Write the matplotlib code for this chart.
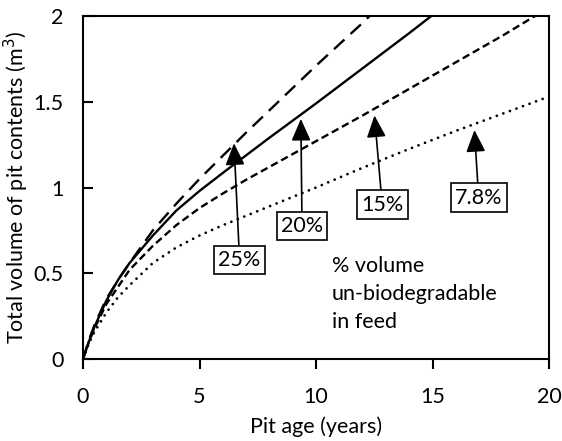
import matplotlib
matplotlib.use('Agg')
import matplotlib.pyplot as plt

plt.rcParams['font.family'] = ['Lato', 'DejaVu Sans']

# values (pit age in years, volume in m3)
age_25 = [0, 0.25, 0.5, 1, 1.5, 2, 3, 4, 5, 6, 7, 8, 10, 12, 12.3]
vol_25 = [0, 0.11, 0.20, 0.35, 0.46, 0.56, 0.75, 0.905, 1.05, 1.185, 1.32, 1.45, 1.71, 1.96, 2.0]

age_20 = [0, 0.25, 0.5, 1, 1.5, 2, 3, 4, 5, 6, 8, 10, 12, 14, 14.95]
vol_20 = [0, 0.10, 0.19, 0.34, 0.46, 0.56, 0.72, 0.865, 0.98, 1.085, 1.29, 1.49, 1.695, 1.90, 2.0]

age_15 = [0, 0.25, 0.5, 1, 1.5, 2, 3, 4, 5, 6, 7, 8, 10, 12, 14, 16, 18, 19.4]
vol_15 = [0, 0.10, 0.18, 0.32, 0.42, 0.52, 0.66, 0.78, 0.88, 0.965, 1.045, 1.12, 1.27, 1.42, 1.575, 1.73, 1.885, 2.0]

age_78 = [0, 0.25, 0.5, 1, 1.5, 2, 3, 4, 5, 6, 7, 8, 10, 12, 14, 16, 18, 20]
vol_78 = [0, 0.09, 0.16, 0.27, 0.36, 0.43, 0.56, 0.65, 0.72, 0.78, 0.835, 0.89, 1.0, 1.115, 1.225, 1.33, 1.43, 1.53]

labels = ['25%', '20%', '15%', '7.8%']
tip_x = [6.48, 9.35, 12.51, 16.8]
tip_y = [1.258, 1.40, 1.42, 1.335]
box_x = [6.72, 9.40, 12.84, 16.98]
box_y = [0.577, 0.776, 0.90, 0.94]

x_ticks = [0, 5, 10, 15, 20]
y_ticks = [0, 0.5, 1, 1.5, 2]
y_tick_labels = ['0', '0.5', '1', '1.5', '2']

fs = 15.5
fig = plt.figure(figsize=(5.62, 4.41), dpi=100)
ax = fig.add_axes([83 / 562, 1 - 359 / 441, (549 - 83) / 562, (359 - 16) / 441])

lw = 1.7
ax.plot(age_25, vol_25, color='black', lw=lw, dashes=(6, 3.5))
ax.plot(age_20, vol_20, color='black', lw=lw)
ax.plot(age_15, vol_15, color='black', lw=lw, dashes=(3.2, 1.7))
ax.plot(age_78, vol_78, color='black', lw=2.0, dashes=(0.01, 2.5), dash_capstyle='round')

for lab, tx, ty, bx, by in zip(labels, tip_x, tip_y, box_x, box_y):
    ax.annotate(lab, xy=(tx, ty), xytext=(bx, by), ha='center', va='center', fontsize=fs,
                bbox=dict(boxstyle='square,pad=0.2', fc='white', ec='black', lw=1.2),
                arrowprops=dict(arrowstyle='-|>,head_length=0.75,head_width=0.33',
                                color='black', lw=1.2, shrinkA=0, shrinkB=0,
                                mutation_scale=18))

ax.text(10.69, 0.60, '% volume\nun-biodegradable\nin feed', ha='left', va='top',
        fontsize=fs, linespacing=1.5)

ax.set_xlim(0, 20)
ax.set_ylim(0, 2)
ax.set_xticks(x_ticks)
ax.set_yticks(y_ticks)
ax.set_yticklabels(y_tick_labels)
ax.tick_params(axis='x', direction='out', length=7, width=1.5, pad=13, labelsize=fs)
ax.tick_params(axis='y', direction='in', length=7, width=1.5, pad=14, labelsize=fs)
for sp in ax.spines.values():
    sp.set_linewidth(1.5)

ax.set_xlabel('Pit age (years)', fontsize=fs, labelpad=7)
ax.set_ylabel('Total volume of pit contents (m$^3$)', fontsize=fs, labelpad=2)

fig.savefig('out.png', dpi=100, facecolor='white')
